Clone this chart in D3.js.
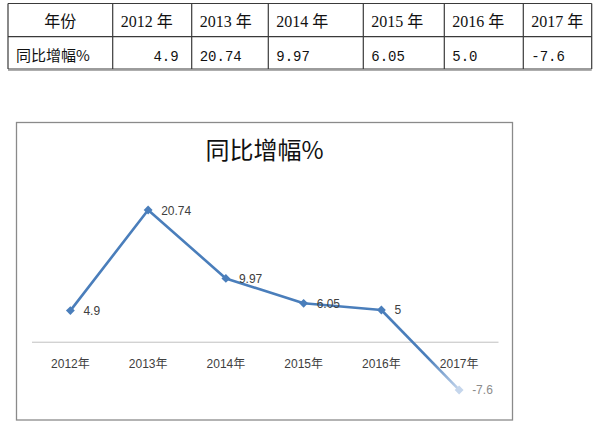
<!DOCTYPE html>
<html>
<head>
<meta charset="utf-8">
<script src="https://cdn.jsdelivr.net/npm/d3@7"></script>
<style>
  html, body { margin: 0; padding: 0; background: #fff; }
  svg { display: block; }
</style>
</head>
<body>
<svg id="chart" width="600" height="426"></svg>
<script>
// ---- data ----
const years = ["2012年", "2013年", "2014年", "2015年", "2016年", "2017年"];
const tableYears = ["2012 年", "2013 年", "2014 年", "2015 年", "2016 年", "2017 年"];
const values = [4.9, 20.74, 9.97, 6.05, 5, -7.6];
const tableValues = ["4.9", "20.74", "9.97", "6.05", "5.0", "-7.6"];
const tableHeader = "年份";
const rowLabel = "同比增幅%";
const chartTitle = "同比增幅%";
const yDomain = [-10, 25];

const svg = d3.select("#chart");
const cjk = "'Liberation Serif', 'Noto Sans CJK SC', serif";
const monoFont = "'Liberation Mono', 'Noto Sans CJK SC', monospace";

// ---- table ----
const colEdges = [8, 112.7, 191.7, 268.3, 363.3, 444.3, 523.3, 591.7];
const rowEdges = [3.5, 36.7, 69];
const tbl = svg.append("g").attr("class", "table");
const lineColor = "#3a3a3a";
// horizontal lines
tbl.selectAll("line.h").data(rowEdges).join("line")
  .attr("x1", colEdges[0]).attr("x2", colEdges[colEdges.length - 1])
  .attr("y1", d => d).attr("y2", d => d)
  .attr("stroke", lineColor).attr("stroke-width", 1.2);
// shadow line under table
tbl.append("line")
  .attr("x1", colEdges[0]).attr("x2", colEdges[colEdges.length - 1])
  .attr("y1", rowEdges[2] + 1.3).attr("y2", rowEdges[2] + 1.3)
  .attr("stroke", "#9a9a9a").attr("stroke-width", 1);
// vertical lines
tbl.selectAll("line.v").data(colEdges).join("line")
  .attr("x1", d => d).attr("x2", d => d)
  .attr("y1", rowEdges[0]).attr("y2", rowEdges[2])
  .attr("stroke", lineColor).attr("stroke-width", 1.2);

// header row
tbl.append("text")
  .attr("x", (colEdges[0] + colEdges[1]) / 2).attr("y", 27)
  .attr("text-anchor", "middle")
  .attr("font-family", cjk).attr("font-size", 16).attr("fill", "#111")
  .text(tableHeader);
tbl.selectAll("text.yr").data(tableYears).join("text")
  .attr("class", "yr")
  .attr("x", (d, i) => colEdges[i + 1] + 8).attr("y", 27)
  .attr("font-family", cjk).attr("font-size", 16).attr("fill", "#111")
  .text(d => d);
// value row
tbl.append("text")
  .attr("x", 16).attr("y", 61)
  .attr("font-family", "'Noto Sans CJK SC', sans-serif").attr("font-size", 15).attr("fill", "#111")
  .text(rowLabel);
tbl.selectAll("text.val").data(tableValues).join("text")
  .attr("class", "val")
  .attr("x", (d, i) => i === 0 ? colEdges[i + 2] - 13 : colEdges[i + 1] + 8)
  .attr("text-anchor", (d, i) => i === 0 ? "end" : "start")
  .attr("y", 61)
  .attr("font-family", monoFont).attr("font-size", 14).attr("fill", "#111")
  .text(d => d);

// ---- chart ----
const box = { x: 16.5, y: 122.5, w: 496, h: 297.5 };
svg.append("rect")
  .attr("x", box.x).attr("y", box.y).attr("width", box.w).attr("height", box.h)
  .attr("fill", "#fff").attr("stroke", "#8a8a8a").attr("stroke-width", 1.3);

svg.append("text")
  .attr("x", box.x + box.w / 2).attr("y", 159)
  .attr("text-anchor", "middle")
  .attr("font-family", "'Noto Sans CJK SC', sans-serif").attr("font-size", 24)
  .attr("fill", "#111")
  .text(chartTitle);

const x = d3.scaleBand().domain(years).range([31.5, 498]).padding(0);
const y = d3.scaleLinear().domain(yDomain).range([405.2, 183]);
const cx = d => x(d) + x.bandwidth() / 2;

// x axis at zero
const xAxis = svg.append("g")
  .attr("transform", `translate(0,${y(0)})`)
  .call(d3.axisBottom(x).tickSize(0).tickPadding(18));
xAxis.select(".domain").attr("stroke", "#c0c0c0").attr("stroke-width", 1);
xAxis.selectAll("text")
  .attr("font-family", "'Liberation Sans', 'Noto Sans CJK SC', sans-serif")
  .attr("font-size", 12).attr("fill", "#404040");

const blue = "#4a7ebb";
const pts = years.map((yr, i) => ({ yr, v: values[i], px: cx(yr), py: y(values[i]) }));

// gradient for last segment (fading)
const defs = svg.append("defs");
const a = pts[pts.length - 2], b = pts[pts.length - 1];
const grad = defs.append("linearGradient").attr("id", "fade")
  .attr("gradientUnits", "userSpaceOnUse")
  .attr("x1", a.px).attr("y1", a.py).attr("x2", b.px).attr("y2", b.py);
grad.append("stop").attr("offset", "0%").attr("stop-color", blue);
grad.append("stop").attr("offset", "60%").attr("stop-color", blue);
grad.append("stop").attr("offset", "100%").attr("stop-color", "#c5d6ec");

const line = d3.line().x(d => d.px).y(d => d.py);
svg.append("path").datum(pts.slice(0, pts.length - 1))
  .attr("d", line).attr("fill", "none")
  .attr("stroke", blue).attr("stroke-width", 2.6).attr("stroke-linejoin", "round");
svg.append("path").datum([a, b])
  .attr("d", line).attr("fill", "none")
  .attr("stroke", "url(#fade)").attr("stroke-width", 2.6);

const diamond = d3.symbol().type(d3.symbolDiamond2).size(50);
svg.selectAll("path.mk").data(pts).join("path")
  .attr("class", "mk")
  .attr("d", diamond)
  .attr("transform", d => `translate(${d.px},${d.py})`)
  .attr("fill", (d, i) => i === pts.length - 1 ? "#c5d6ec" : blue);

svg.selectAll("text.lbl").data(pts).join("text")
  .attr("class", "lbl")
  .attr("x", d => d.px + 13).attr("y", d => d.py + 4.5)
  .attr("font-family", "'Liberation Sans', sans-serif").attr("font-size", 12)
  .attr("fill", (d, i) => i === pts.length - 1 ? "#8c8c8c" : "#404040")
  .text(d => String(d.v));
</script>
</body>
</html>
